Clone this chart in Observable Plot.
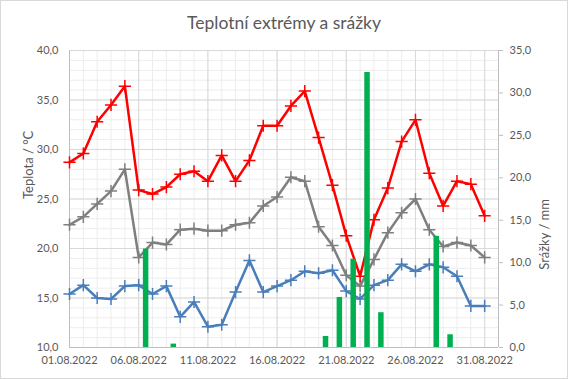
<!DOCTYPE html>
<html><head><meta charset="utf-8">
<script src="https://cdn.jsdelivr.net/npm/d3@7"></script>
<script src="https://cdn.jsdelivr.net/npm/@observablehq/plot@0.6"></script>
<style>
body{margin:0;background:#fff;}
#chart{position:relative;width:568px;height:379px;box-sizing:border-box;border:1px solid #d9d9d9;font-family:Lato,"Liberation Sans",sans-serif;color:#595959;overflow:hidden;background:#fff;}
#title{height:40px;line-height:43px;text-align:center;font-size:17.5px;white-space:nowrap;}
#plot svg{display:block;}
</style>
</head><body>
<div id="chart"><div id="title">Teplotní extrémy a srážky</div><div id="plot"></div></div>
<script>
const dates = ["2022-08-01","2022-08-02","2022-08-03","2022-08-04","2022-08-05","2022-08-06","2022-08-07","2022-08-08","2022-08-09","2022-08-10","2022-08-11","2022-08-12","2022-08-13","2022-08-14","2022-08-15","2022-08-16","2022-08-17","2022-08-18","2022-08-19","2022-08-20","2022-08-21","2022-08-22","2022-08-23","2022-08-24","2022-08-25","2022-08-26","2022-08-27","2022-08-28","2022-08-29","2022-08-30","2022-08-31"];
const tMax = [28.7,29.6,32.8,34.5,36.4,25.9,25.5,26.2,27.5,27.8,26.8,29.4,26.8,28.9,32.4,32.4,34.4,35.9,31.2,26.4,21.3,17.2,22.9,26.1,30.8,33.0,27.6,24.3,26.8,26.5,23.3];
const tAvg = [22.4,23.2,24.5,25.8,28.0,19.1,20.6,20.4,21.9,22.0,21.8,21.8,22.4,22.6,24.3,25.2,27.2,26.8,22.2,20.3,17.3,16.2,18.9,21.6,23.6,25.0,21.9,20.2,20.6,20.3,19.1];
const tMin = [15.4,16.3,15.0,14.9,16.2,16.3,15.4,16.2,13.1,14.6,12.1,12.3,15.6,18.8,15.6,16.2,16.8,17.7,17.5,17.8,15.7,14.9,16.3,16.8,18.4,17.7,18.4,18.1,17.2,14.2,14.2];
const rainDates = ["2022-08-06","2022-08-08","2022-08-19","2022-08-20","2022-08-21","2022-08-22","2022-08-23","2022-08-27","2022-08-28"];
const rainValues = [11.6,0.4,1.3,5.9,10.4,32.4,4.1,13.1,1.5];
const tempTicks = [10,15,20,25,30,35,40];
const rainTicks = [0,5,10,15,20,25,30,35];
const dateTicks = ["2022-08-01","2022-08-06","2022-08-11","2022-08-16","2022-08-21","2022-08-26","2022-08-31"];
const xStart = "2022-08-01", xEnd = "2022-09-01";

const parse = d3.utcParse("%Y-%m-%d");
const fmtNum = v => (Math.round(v*10)/10).toFixed(1).replace(".", ",");
const fmtDate = d3.utcFormat("%d.%m.%Y");
const tLo = tempTicks[0], tHi = tempTicks[tempTicks.length-1];
const rLo = rainTicks[0], rHi = rainTicks[rainTicks.length-1];
const toT = r => tLo + (r - rLo) * (tHi - tLo) / (rHi - rLo);
const toR = t => rLo + (t - tLo) * (rHi - rLo) / (tHi - tLo);

const rows = dates.map((d,i) => ({date: parse(d), max: tMax[i], avg: tAvg[i], min: tMin[i]}));
const rainRows = rainDates.map((d,i) => ({date: d3.utcHour.offset(parse(d), 12), t: toT(rainValues[i])}));
const series = [["min","#4A7EBB"],["avg","#7F7F7F"],["max","#FF0000"]];
const x0 = parse(xStart), x1 = parse(xEnd);
const majorDates = dateTicks.map(parse);
const dayDates = dates.map(parse);
const minorT = d3.range(tLo, tHi + 1, 1);

const chart = Plot.plot({
  width: 566, height: 337,
  marginLeft: 68, marginRight: 69, marginTop: 9, marginBottom: 31,
  x: {type: "utc", domain: [x0, x1], label: null},
  y: {domain: [tLo, tHi], label: null},
  style: {fontFamily: "Lato, 'Liberation Sans', sans-serif", fontSize: "11px", color: "#595959", background: "white"},
  marks: [
    Plot.gridX(dayDates, {stroke: "#EDEDED", strokeOpacity: 1}),
    Plot.gridY(minorT, {stroke: "#EDEDED", strokeOpacity: 1}),
    Plot.gridX(majorDates, {stroke: "#D9D9D9", strokeOpacity: 1}),
    Plot.gridY(tempTicks, {stroke: "#D9D9D9", strokeOpacity: 1}),
    Plot.ruleX([x0, x1], {stroke: "#BFBFBF"}),
    Plot.ruleY([tLo], {stroke: "#BFBFBF"}),
    ...series.flatMap(([k, c]) => [
      Plot.line(rows, {x: "date", y: k, stroke: c, strokeWidth: 2.5}),
      Plot.dot(rows, {x: "date", y: k, stroke: c, symbol: "plus", r: 4, strokeWidth: 1.5})
    ]),
    Plot.ruleX(rainRows, {x: "date", y1: tLo, y2: "t", stroke: "#00B050", strokeWidth: 5.5}),
    Plot.axisY(tempTicks, {anchor: "left", tickSize: 0, tickPadding: 11, tickFormat: fmtNum, fill: "#595959"}),
    Plot.axisY(rainTicks.map(toT), {anchor: "right", tickSize: 4, tickPadding: 7, stroke: "#BFBFBF", fill: "#595959", tickFormat: t => fmtNum(toR(t))}),
    Plot.axisX(majorDates, {anchor: "bottom", tickSize: 0, tickPadding: 9, tickFormat: fmtDate, fill: "#595959"}),
    Plot.text(["Teplota / °C"], {frameAnchor: "left", dx: -41, rotate: -90, fontSize: 13, fill: "#595959"}),
    Plot.text(["Srážky / mm"], {frameAnchor: "right", dx: 46, rotate: -90, fontSize: 13, fill: "#595959"})
  ]
});
document.getElementById("plot").appendChild(chart);
</script>
</body></html>
